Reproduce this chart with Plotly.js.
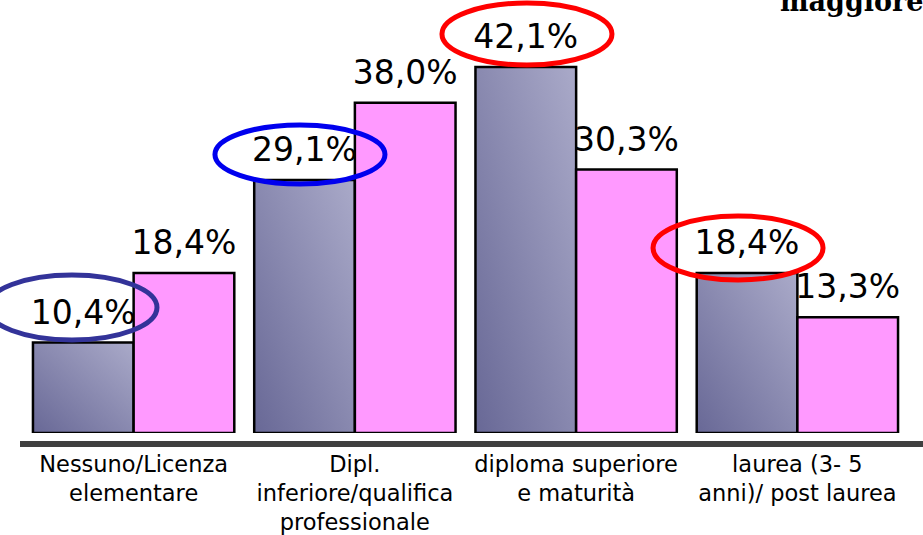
<!DOCTYPE html>
<html>
<head>
<meta charset="utf-8">
<script src="https://cdn.plot.ly/plotly-3.0.1.min.js"></script>
<style>
  html, body { margin: 0; padding: 0; background: #ffffff; }
  #chart { width: 923px; height: 535px; }
</style>
</head>
<body>
<div id="chart"></div>
<script>
// Titolo di studio: distribuzione percentuale dei due gruppi
const categories = [
  'Nessuno/Licenza<br>elementare',
  'Dipl.<br>inferiore/qualifica<br>professionale',
  'diploma superiore<br>e maturità',
  'laurea (3- 5<br>anni)/ post laurea'
];
const valuesGroupA = [10.4, 29.1, 42.1, 18.4];
const valuesGroupB = [18.4, 38.0, 30.3, 13.3];
const headingText = 'maggiorenni';

const labelFont = { family: 'DejaVu Sans, Verdana, sans-serif', size: 33, color: '#000000' };

const traceA = {
  type: 'bar',
  name: 'Gruppo A',
  x: categories,
  y: valuesGroupA,
  marker: { color: '#8c8cb2', line: { color: '#000000', width: 2.5 } },
  texttemplate: '%{y:.1f}%',
  textposition: 'outside',
  textfont: labelFont,
  constraintext: 'none',
  cliponaxis: false
};

const traceB = {
  type: 'bar',
  name: 'Gruppo B',
  x: categories,
  y: valuesGroupB,
  marker: { color: '#ff99ff', line: { color: '#000000', width: 2.5 } },
  texttemplate: '%{y:.1f}%',
  textposition: 'outside',
  textfont: labelFont,
  constraintext: 'none',
  cliponaxis: false
};

// Ellissi di evidenziazione attorno ad alcune etichette
function ellipse(x0, x1, y0, y1, color) {
  return {
    type: 'circle', xref: 'paper', yref: 'paper',
    x0: x0, x1: x1, y0: y0, y1: y1,
    line: { color: color, width: 5 },
    fillcolor: 'rgba(0,0,0,0)',
    layer: 'above'
  };
}

const layout = {
  width: 923,
  height: 535,
  margin: { l: 23, r: 15, t: 7, b: 102 },
  paper_bgcolor: '#ffffff',
  plot_bgcolor: '#ffffff',
  separators: ',.',
  showlegend: false,
  barmode: 'group',
  bargap: 0.09,
  bargroupgap: 0,
  xaxis: {
    type: 'category',
    range: [-0.5, 3.5],
    showgrid: false,
    zeroline: false,
    showline: false,
    ticks: '',
    ticklabelstandoff: 15,
    tickfont: { family: 'DejaVu Sans, Verdana, sans-serif', size: 22.5, color: '#000000' },
    fixedrange: true
  },
  yaxis: {
    range: [0, 49],
    showgrid: false,
    zeroline: false,
    showline: false,
    showticklabels: false,
    ticks: '',
    fixedrange: true
  },
  shapes: [
    // linea di base spessa sotto le barre
    { type: 'line', xref: 'paper', yref: 'paper',
      x0: -3 / 885, x1: 900 / 885, y0: -11 / 426, y1: -11 / 426,
      line: { color: '#404040', width: 6 } },
    ellipse(-0.0407, 0.1514, 0.2183, 0.3709, '#333399'),
    ellipse(0.2169, 0.4090, 0.5845, 0.7230, '#0000ee'),
    ellipse(0.4734, 0.6655, 0.8638, 1.0094, '#ff0000'),
    ellipse(0.7119, 0.9040, 0.3592, 0.5094, '#ff0000')
  ],
  annotations: [{
    text: '<b>' + headingText + '</b>',
    xref: 'paper', yref: 'paper',
    x: 755 / 885, y: 0.972,
    xanchor: 'left', yanchor: 'bottom',
    showarrow: false,
    font: { family: 'DejaVu Serif, serif', size: 27, color: '#000000' }
  }]
};

const gd = document.getElementById('chart');
Plotly.newPlot(gd, [traceA, traceB], layout, { staticPlot: true, displayModeBar: false }).then(function () {
  const svgNS = 'http://www.w3.org/2000/svg';
  const svg = gd.querySelector('svg.main-svg');
  let defs = svg.querySelector('defs');
  if (!defs) { defs = document.createElementNS(svgNS, 'defs'); svg.insertBefore(defs, svg.firstChild); }

  // sfumatura diagonale per la prima serie
  const grad = document.createElementNS(svgNS, 'linearGradient');
  grad.setAttribute('id', 'gradGroupA');
  grad.setAttribute('x1', '0'); grad.setAttribute('y1', '1');
  grad.setAttribute('x2', '1'); grad.setAttribute('y2', '0');
  [['0', '#686896'], ['1', '#aaaac9']].forEach(function (s) {
    const stop = document.createElementNS(svgNS, 'stop');
    stop.setAttribute('offset', s[0]);
    stop.setAttribute('stop-color', s[1]);
    grad.appendChild(stop);
  });
  defs.appendChild(grad);

  const traces = gd.querySelectorAll('.barlayer .trace');
  traces[0].querySelectorAll('.point path').forEach(function (p) {
    p.style.fill = 'url(#gradGroupA)';
  });

  // etichette dei valori un poco più staccate dalle barre
  gd.querySelectorAll('.barlayer text.bartext').forEach(function (t) {
    const tr = t.getAttribute('transform') || '';
    t.setAttribute('transform', 'translate(0,-8) ' + tr);
  });
});
</script>
</body>
</html>
